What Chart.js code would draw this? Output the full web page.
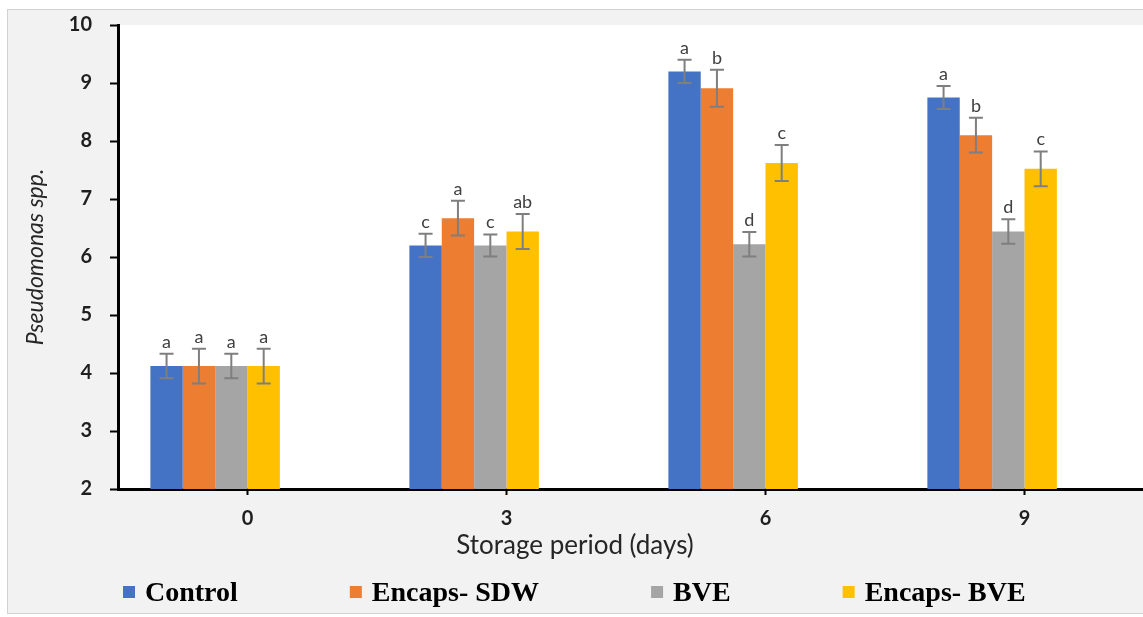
<!DOCTYPE html>
<html>
<head>
<meta charset="utf-8">
<script src="https://cdn.jsdelivr.net/npm/chart.js@4.4.1/dist/chart.umd.min.js"></script>
<style>
  html, body { margin: 0; padding: 0; background: #ffffff; overflow: hidden; width: 1143px; height: 617px; }
  #frame { position: absolute; left: 7px; top: 9px; width: 1160px; height: 603px;
           border: 1px solid #d2d2d2; background: #f2f2f2; }
  canvas { display: block; }
</style>
</head>
<body>
<div id="frame"><canvas id="chart" width="1160" height="603"></canvas></div>
<script>
// Storage period (days) on the category axis
const categories = ['0', '3', '6', '9'];
const yTicks = [2, 3, 4, 5, 6, 7, 8, 9, 10];

// Pseudomonas counts per treatment, with standard errors and significance letters
const controlValues = [4.12, 6.20, 9.20, 8.75];
const controlErrors = [0.21, 0.20, 0.20, 0.20];
const controlLetters = ['a', 'c', 'a', 'a'];

const encapsSdwValues = [4.12, 6.67, 8.91, 8.10];
const encapsSdwErrors = [0.30, 0.30, 0.32, 0.30];
const encapsSdwLetters = ['a', 'a', 'b', 'b'];

const bveValues = [4.12, 6.20, 6.22, 6.44];
const bveErrors = [0.21, 0.19, 0.21, 0.21];
const bveLetters = ['a', 'c', 'd', 'd'];

const encapsBveValues = [4.12, 6.44, 7.62, 7.52];
const encapsBveErrors = [0.30, 0.30, 0.31, 0.30];
const encapsBveLetters = ['a', 'ab', 'c', 'c'];

const seriesNames = ['Control', 'Encaps- SDW', 'BVE', 'Encaps- BVE'];
const seriesColors = ['#4472C4', '#ED7D31', '#A5A5A5', '#FFC000'];

function barSet(i, values, errors, letters) {
  return {
    label: seriesNames[i],
    data: values,
    errors: errors,
    letters: letters,
    backgroundColor: seriesColors[i],
    borderWidth: 0,
    barPercentage: 1.0,
    categoryPercentage: 0.75
  };
}

// two empty slots after the four series keep each bar group left of its tick
function spacerSet() {
  return { label: '', data: categories.map(() => null), barPercentage: 1.0, categoryPercentage: 0.75 };
}

const plotBackground = {
  id: 'plotBackground',
  beforeDraw(chart) {
    const { ctx, chartArea: a } = chart;
    ctx.save();
    ctx.fillStyle = '#ffffff';
    ctx.fillRect(a.left, a.top, a.right - a.left, a.bottom - a.top);
    ctx.restore();
  }
};

const errorBarsAndLetters = {
  id: 'errorBarsAndLetters',
  afterDatasetsDraw(chart) {
    const ctx = chart.ctx;
    const yScale = chart.scales.y;
    ctx.save();
    chart.data.datasets.forEach((ds, di) => {
      if (!ds.errors) return;
      const meta = chart.getDatasetMeta(di);
      meta.data.forEach((bar, i) => {
        const v = ds.data[i], e = ds.errors[i];
        const top = yScale.getPixelForValue(v + e);
        const bot = yScale.getPixelForValue(v - e);
        const x = bar.x;
        ctx.strokeStyle = '#7f7f7f';
        ctx.lineWidth = 2;
        ctx.beginPath();
        ctx.moveTo(x, top); ctx.lineTo(x, bot);
        ctx.moveTo(x - 7, top); ctx.lineTo(x + 7, top);
        ctx.moveTo(x - 7, bot); ctx.lineTo(x + 7, bot);
        ctx.stroke();
        ctx.fillStyle = '#404040';
        ctx.font = '18px Lato';
        ctx.textAlign = 'center';
        ctx.textBaseline = 'alphabetic';
        ctx.fillText(ds.letters[i], x, top - 6);
      });
    });
    ctx.restore();
  }
};

const bottomLegendAndTitle = {
  id: 'bottomLegendAndTitle',
  afterDraw(chart) {
    const ctx = chart.ctx;
    const a = chart.chartArea;
    ctx.save();
    // x-axis title
    ctx.font = '26px Lato';
    ctx.fillStyle = '#262626';
    ctx.textAlign = 'center';
    ctx.textBaseline = 'alphabetic';
    ctx.fillText('Storage period (days)', a.left + 457, 544);
    // legend row
    ctx.font = 'bold 28px "Liberation Serif"';
    ctx.textAlign = 'left';
    let x = a.left + 5;
    chart.data.datasets.forEach(ds => {
      if (!ds.label) return;
      ctx.fillStyle = ds.backgroundColor;
      ctx.fillRect(x, 576, 12, 12);
      ctx.fillStyle = '#000000';
      ctx.fillText(ds.label, x + 22, 591);
      x += 22 + ctx.measureText(ds.label).width + 112;
    });
    ctx.restore();
  }
};

new Chart(document.getElementById('chart'), {
  type: 'bar',
  data: {
    labels: categories,
    datasets: [
      barSet(0, controlValues, controlErrors, controlLetters),
      barSet(1, encapsSdwValues, encapsSdwErrors, encapsSdwLetters),
      barSet(2, bveValues, bveErrors, bveLetters),
      barSet(3, encapsBveValues, encapsBveErrors, encapsBveLetters),
      spacerSet(),
      spacerSet()
    ]
  },
  options: {
    responsive: false,
    animation: false,
    devicePixelRatio: 1,
    layout: { padding: { top: 15, right: 14, bottom: 64, left: 0 } },
    plugins: { legend: { display: false }, tooltip: { enabled: false } },
    scales: {
      x: {
        type: 'category',
        offset: true,
        grid: { offset: false, drawOnChartArea: false, drawTicks: true, tickLength: 6, tickWidth: 2, tickColor: '#000000' },
        border: { display: true, color: '#000000', width: 3 },
        ticks: { color: '#1f1f1f', font: { family: 'Lato', weight: 'bold', size: 20 }, padding: 12 },
        afterFit(s) { s.height = 60; }
      },
      y: {
        min: 2,
        max: 10,
        afterBuildTicks(s) { s.ticks = yTicks.map(v => ({ value: v })); },
        grid: { drawOnChartArea: false, drawTicks: true, tickLength: 8, tickWidth: 2, tickColor: '#000000' },
        border: { display: true, color: '#000000', width: 3 },
        ticks: { color: '#1f1f1f', font: { family: 'Lato', weight: 'bold', size: 20 }, padding: 18 },
        title: {
          display: true,
          text: 'Pseudomonas spp.',
          color: '#262626',
          font: { family: 'Lato', style: 'italic', size: 23 },
          padding: { top: 14, bottom: 0 }
        },
        afterFit(s) { s.width = 110; s.paddingTop = 0; s.paddingBottom = 0; }
      }
    }
  },
  plugins: [plotBackground, errorBarsAndLetters, bottomLegendAndTitle]
});
</script>
</body>
</html>
